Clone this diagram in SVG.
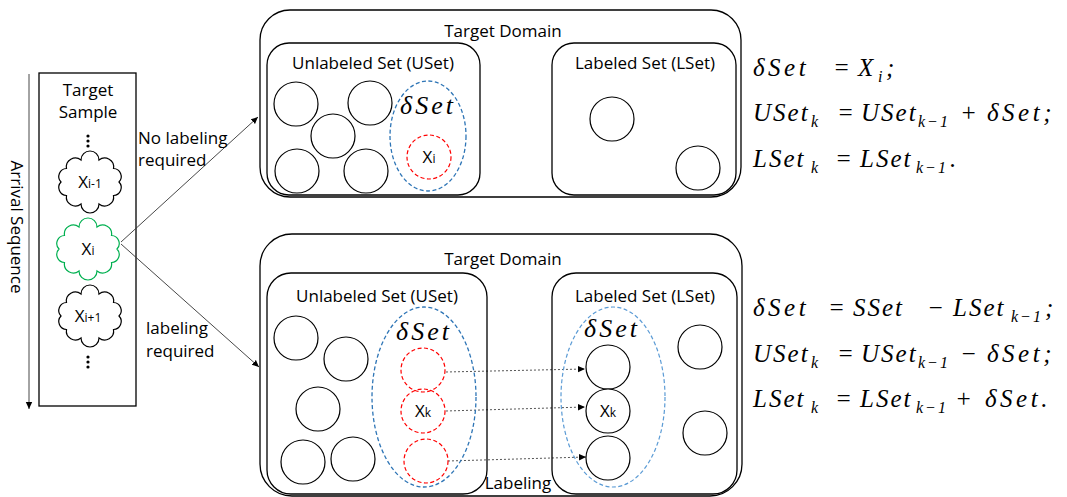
<svg xmlns="http://www.w3.org/2000/svg" width="1067" height="497" viewBox="0 0 1067 497">
<style>
.lbl{font-family:"Open Sans","Liberation Sans",Arial,sans-serif;font-size:17px;fill:#000}
.ctr{text-anchor:middle}
.box{fill:none;stroke:#000;stroke-width:1.3}
.c{fill:#fff;stroke:#000;stroke-width:1.2}
.rd{fill:none;stroke:#ff0000;stroke-width:1.2;stroke-dasharray:4,2.5}
.bl{fill:none;stroke:#2e75b6;stroke-width:1.3;stroke-dasharray:4,2.5}
.bl2{fill:none;stroke:#5b9bd5;stroke-width:1.2;stroke-dasharray:4,2.5}
.m{font-family:"Liberation Serif","Times New Roman",serif;font-style:italic;font-size:25px;fill:#000}
.dl{letter-spacing:3.5px}
.ds{font-family:"Liberation Serif","Times New Roman",serif;font-style:italic;font-size:26px;fill:#000;text-anchor:middle;letter-spacing:3px}
.sub{font-size:16px}
.xs{font-family:"Open Sans","Liberation Sans",Arial,sans-serif;font-size:17px;fill:#000;text-anchor:middle}
.xs tspan{font-size:12px}
.conn{stroke:#333;stroke-width:0.9;fill:none}
.dot{stroke:#555;stroke-width:1;stroke-dasharray:2,2;fill:none}
</style>
<defs>
<marker id="ah" markerWidth="8" markerHeight="8" refX="7" refY="4" orient="auto" markerUnits="userSpaceOnUse">
<path d="M0,0.8 L7,4 L0,7.2 Z" fill="#000"/>
</marker>
<path id="cloud" d="M29,0 A8,8 0 0 1 23.5,13.5 A9,9 0 0 1 9,22 A9,9 0 0 1 -9,22 A9,9 0 0 1 -23.5,13.5 A8,8 0 0 1 -29,0 A8,8 0 0 1 -23.5,-13.5 A9,9 0 0 1 -9,-22 A9,9 0 0 1 9,-22 A9,9 0 0 1 23.5,-13.5 A8,8 0 0 1 29,0 Z" fill="#fff" stroke-width="1.2"/>
</defs>

<g id="arrival">
<line x1="29" y1="74" x2="29" y2="409" class="conn" stroke="#000" marker-end="url(#ah)"/>
<text class="lbl ctr" transform="translate(11,227) rotate(90)">Arrival Sequence</text>
</g>

<g id="target-sample">
<rect x="39" y="73" width="97" height="333" class="box"/>
<text class="lbl ctr" x="88" y="96">Target</text>
<text class="lbl ctr" x="88" y="118">Sample</text>
<circle cx="88" cy="136" r="1.6"/><circle cx="88" cy="141" r="1.6"/><circle cx="88" cy="146" r="1.6"/>
<circle cx="88" cy="357" r="1.6"/><circle cx="88" cy="362" r="1.6"/><circle cx="88" cy="367" r="1.6"/>
</g>

<g id="cloud-im1">
<use href="#cloud" x="90" y="182" stroke="#000"/>
<text class="xs" x="90" y="188">X<tspan>i-1</tspan></text>
</g>
<g id="cloud-i">
<use href="#cloud" x="88" y="249" stroke="#00b050"/>
<text class="xs" x="88" y="255">X<tspan>i</tspan></text>
</g>
<g id="cloud-ip1">
<use href="#cloud" x="90" y="316" stroke="#000"/>
<text class="xs" x="88" y="322">X<tspan>i+1</tspan></text>
</g>

<g id="connectors">
<line x1="121" y1="242" x2="258" y2="117" class="conn" marker-end="url(#ah)"/>
<line x1="121" y1="244" x2="259" y2="367" class="conn" marker-end="url(#ah)"/>
<line x1="446" y1="372" x2="585" y2="369" class="dot" marker-end="url(#ah)"/>
<line x1="446" y1="411" x2="585" y2="407" class="dot" marker-end="url(#ah)"/>
<line x1="448" y1="461" x2="586" y2="457" class="dot" marker-end="url(#ah)"/>
</g>

<g id="edge-labels">
<text class="lbl" x="138" y="144">No labeling</text>
<text class="lbl" x="138" y="166">required</text>
<text class="lbl" x="146" y="334">labeling</text>
<text class="lbl" x="146" y="357">required</text>
<text class="lbl ctr" x="518" y="489">Labeling</text>
</g>

<g id="domain-top">
<rect x="260" y="10" width="481" height="187" rx="30" class="box"/>
<text class="lbl ctr" x="503" y="37">Target Domain</text>
</g>
<g id="uset-top">
<rect x="267" y="43" width="213" height="152" rx="22" class="box"/>
<text class="lbl ctr" x="373" y="69">Unlabeled Set (USet)</text>
<circle cx="296" cy="104" r="22" class="c"/>
<circle cx="370" cy="103" r="22" class="c"/>
<circle cx="333" cy="136" r="22" class="c"/>
<circle cx="297" cy="171" r="22" class="c"/>
<circle cx="366" cy="171" r="22" class="c"/>
<ellipse cx="428" cy="136" rx="38" ry="55" class="bl"/>
<text class="ds" x="428" y="114">δSet</text>
<circle cx="429" cy="157" r="22" class="rd"/>
<text class="xs" x="429" y="163">X<tspan>i</tspan></text>
</g>
<g id="lset-top">
<rect x="552" y="43" width="184" height="152" rx="22" class="box"/>
<text class="lbl ctr" x="645" y="69">Labeled Set (LSet)</text>
<circle cx="612" cy="119" r="22" class="c"/>
<circle cx="698" cy="168" r="22" class="c"/>
</g>

<g id="domain-bottom">
<rect x="260" y="234" width="482" height="262" rx="32" class="box"/>
<text class="lbl ctr" x="503" y="265">Target Domain</text>
</g>
<g id="uset-bottom">
<rect x="267" y="273" width="220" height="221" rx="24" class="box"/>
<text class="lbl ctr" x="377" y="302">Unlabeled Set (USet)</text>
<circle cx="296" cy="338" r="22" class="c"/>
<circle cx="346" cy="359" r="22" class="c"/>
<circle cx="318" cy="409" r="22" class="c"/>
<circle cx="303" cy="462" r="22" class="c"/>
<circle cx="353" cy="459" r="22" class="c"/>
<ellipse cx="424" cy="397" rx="52" ry="90" class="bl"/>
<text class="ds" x="424" y="340">δSet</text>
<circle cx="423" cy="370" r="22" class="rd"/>
<circle cx="423" cy="411" r="22" class="rd"/>
<text class="xs" x="423" y="417">X<tspan>k</tspan></text>
<circle cx="426" cy="461" r="22" class="rd"/>
</g>
<g id="lset-bottom">
<rect x="552" y="273" width="185" height="221" rx="24" class="box"/>
<text class="lbl ctr" x="645" y="302">Labeled Set (LSet)</text>
<ellipse cx="613" cy="397" rx="52" ry="90" class="bl2"/>
<text class="ds" x="612" y="337">δSet</text>
<circle cx="608" cy="367" r="22" class="c"/>
<circle cx="608" cy="411" r="22" class="c"/>
<text class="xs" x="608" y="417">X<tspan>k</tspan></text>
<circle cx="608" cy="458" r="22" class="c"/>
<circle cx="700" cy="347" r="22" class="c"/>
<circle cx="705" cy="433" r="22" class="c"/>
</g>

<g id="eq-top">
<text class="m" y="76" letter-spacing="2"><tspan class="dl" x="753">δSet</tspan><tspan x="833">=</tspan><tspan x="858">X</tspan><tspan class="sub" x="878" dy="6">i</tspan><tspan x="886" dy="-6">;</tspan></text>
<text class="m" y="121" letter-spacing="2"><tspan x="753">USet</tspan><tspan class="sub" x="811" dy="6">k</tspan><tspan x="837" dy="-6">=</tspan><tspan x="861">USet</tspan><tspan class="sub" x="918" dy="6">k−1</tspan><tspan x="960" dy="-6">+</tspan><tspan class="dl" x="987">δSet</tspan><tspan>;</tspan></text>
<text class="m" y="167" letter-spacing="2"><tspan x="753">LSet</tspan><tspan class="sub" x="811" dy="6">k</tspan><tspan x="835" dy="-6">=</tspan><tspan x="860">LSet</tspan><tspan class="sub" x="916" dy="6">k−1</tspan><tspan x="950" dy="-6">.</tspan></text>
</g>
<g id="eq-bottom">
<text class="m" y="316" letter-spacing="2"><tspan class="dl" x="753">δSet</tspan><tspan x="828">=</tspan><tspan x="853">SSet</tspan><tspan x="927">−</tspan><tspan x="953">LSet</tspan><tspan class="sub" x="1011" dy="6">k−1</tspan><tspan x="1045" dy="-6">;</tspan></text>
<text class="m" y="362" letter-spacing="2"><tspan x="753">USet</tspan><tspan class="sub" x="811" dy="6">k</tspan><tspan x="837" dy="-6">=</tspan><tspan x="861">USet</tspan><tspan class="sub" x="918" dy="6">k−1</tspan><tspan x="960" dy="-6">−</tspan><tspan class="dl" x="987">δSet</tspan><tspan>;</tspan></text>
<text class="m" y="407" letter-spacing="2"><tspan x="753">LSet</tspan><tspan class="sub" x="811" dy="6">k</tspan><tspan x="835" dy="-6">=</tspan><tspan x="860">LSet</tspan><tspan class="sub" x="916" dy="6">k−1</tspan><tspan x="955" dy="-6">+</tspan><tspan class="dl" x="985">δSet</tspan><tspan>.</tspan></text>
</g>
</svg>
